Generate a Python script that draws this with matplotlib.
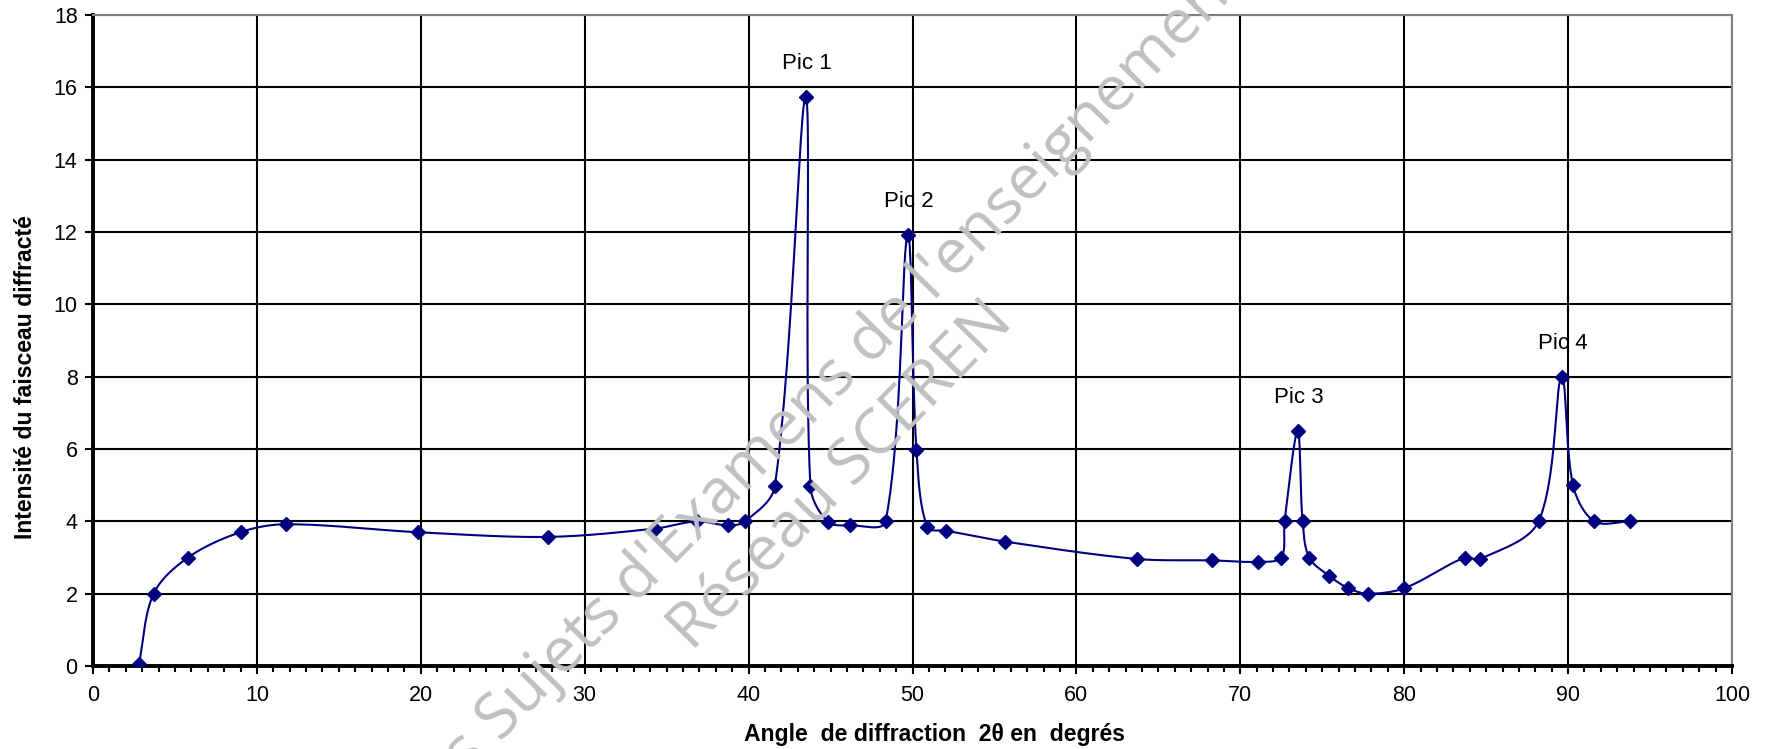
import numpy as np
import matplotlib
matplotlib.use("Agg")
import matplotlib.pyplot as plt
from matplotlib.ticker import MultipleLocator

# Data
angle = [2.8, 3.7, 5.8, 9.0, 11.8, 19.8, 27.75, 34.3, 36.84, 38.72, 39.8, 41.6, 43.48, 43.77,
         44.83, 46.2, 48.36, 49.7, 50.24, 50.9, 52.07, 55.65, 63.7, 68.3, 71.1, 72.5, 72.7,
         73.5, 73.8, 74.2, 75.4, 76.6, 77.8, 80.0, 83.7, 84.6, 88.2, 89.6, 90.3, 91.6, 93.8]
intensity = [0.05, 2.0, 3.0, 3.7, 3.92, 3.7, 3.57, 3.8, 4.0, 3.89, 4.0, 4.97, 15.73, 4.97,
             3.99, 3.89, 4.0, 11.92, 5.98, 3.84, 3.74, 3.44, 2.96, 2.92, 2.88, 3.0, 4.0,
             6.5, 4.0, 3.0, 2.5, 2.15, 2.0, 2.15, 3.0, 2.95, 4.0, 8.0, 5.0, 4.0, 4.0]
peak_labels = ["Pic 1", "Pic 2", "Pic 3", "Pic 4"]
peak_x = [43.48, 49.7, 73.5, 89.6]
peak_y = [15.73, 11.92, 6.5, 8.0]

plt.rcParams['font.family'] = ['Liberation Sans', 'DejaVu Sans']

W, H = 1771, 749
L, R, T, B = 93, 1732, 15, 666
fig = plt.figure(figsize=(W / 100, H / 100), dpi=100)
ax = fig.add_axes([L / W, 1 - B / H, (R - L) / W, (B - T) / H])
renderer = fig.canvas.get_renderer()

ax.set_xlim(0, 100)
ax.set_ylim(0, 18)


def fit_size(text, target_px, base=20, **kw):
    # font size giving the unrotated text a target width in pixels
    t = fig.text(0, 0, text, fontsize=base, **kw)
    w = t.get_window_extent(renderer).width
    t.remove()
    return base * target_px / w


def smooth(xd, yd, n=40):
    # Smoothed line through the points (Bezier, chord-weighted tangents) in display space
    pts = ax.transData.transform(np.column_stack([xd, yd]))
    m = len(pts)
    tang = []
    for i in range(m):
        a = pts[i - 1] if i > 0 else pts[i]
        b = pts[i + 1] if i + 1 < m else pts[i]
        tang.append(b - a)
    out = []
    for i in range(m - 1):
        p1, p2 = pts[i], pts[i + 1]
        d12 = np.linalg.norm(p2 - p1)
        d01 = np.linalg.norm(p1 - pts[i - 1]) if i > 0 else 0.0
        d23 = np.linalg.norm(pts[i + 2] - p2) if i + 2 < m else 0.0
        w1 = d12 / (d01 + d12) if (d01 + d12) > 0 else 0
        w2 = d12 / (d12 + d23) if (d12 + d23) > 0 else 0
        c1 = p1 + tang[i] * w1 / 3.0
        c2 = p2 - tang[i + 1] * w2 / 3.0
        t = np.linspace(0, 1, n)[:, None]
        seg = ((1 - t) ** 3) * p1 + 3 * ((1 - t) ** 2) * t * c1 + 3 * (1 - t) * t ** 2 * c2 + t ** 3 * p2
        out.append(seg if i == 0 else seg[1:])
    out = np.vstack(out)
    return ax.transData.inverted().transform(out)


curve = smooth(np.array(angle), np.array(intensity))
navy = "#000080"
ax.plot(curve[:, 0], curve[:, 1], color=navy, lw=1.5, zorder=3)
ax.plot(angle, intensity, linestyle="none", marker="D", ms=7, color=navy, zorder=4)

for lab, px, py in zip(peak_labels, peak_x, peak_y):
    ax.annotate(lab, (px, py), xytext=(1, 24), textcoords="offset points",
                ha="center", va="center", fontsize=16, color="black", zorder=5)

ax.xaxis.set_major_locator(MultipleLocator(10))
ax.xaxis.set_minor_locator(MultipleLocator(1))
ax.yaxis.set_major_locator(MultipleLocator(2))
ax.grid(True, which="major", color="black", lw=1.5)
ax.set_axisbelow(True)

ax.tick_params(axis="both", which="major", labelsize=15.5, direction="out", length=6, width=1.5, colors="black")
ax.tick_params(axis="x", which="minor", direction="out", length=4.5, width=1.5)
ax.tick_params(axis="x", which="major", pad=8)
ax.tick_params(axis="y", which="major", pad=5)

for s in ["left", "bottom"]:
    ax.spines[s].set_linewidth(2.8)
    ax.spines[s].set_color("black")
for s in ["top", "right"]:
    ax.spines[s].set_linewidth(1.5)
    ax.spines[s].set_color("#808080")

xlab = "Angle  de diffraction  2θ en  degrés"
ylab = "Intensité du faisceau diffracté"
ax.set_xlabel(xlab, fontsize=fit_size(xlab, 382, fontweight="bold"), fontweight="bold", va="center")
ax.xaxis.set_label_coords((934 - L) / (R - L), -(734 - B) / (B - T))
ax.set_ylabel(ylab, fontsize=fit_size(ylab, 325, fontweight="bold"), fontweight="bold", va="center")
ax.yaxis.set_label_coords((26 - L) / (R - L), 8.0 / 18)

# Watermark
wm_color = "#c0c0c0"
rot = 45.5
wm_family = ["Open Sans", "DejaVu Sans"]
wm_size = fit_size("Réseau SCEREN", 460, family=wm_family)
wm_kw = dict(rotation=rot, rotation_mode="anchor", va="baseline", fontsize=wm_size,
             color=wm_color, zorder=10, family=wm_family)
fig.text(500 / W, 1 - 742 / H, "Base Nationale des ", ha="right", **wm_kw)
fig.text(500 / W, 1 - 742 / H, "Sujets d'Examens de l'enseignement professionnel", ha="left", **wm_kw)
fig.text(692 / W, 1 - 652 / H, "Réseau SCEREN", ha="left", **wm_kw)

fig.savefig("out.png", dpi=100)
